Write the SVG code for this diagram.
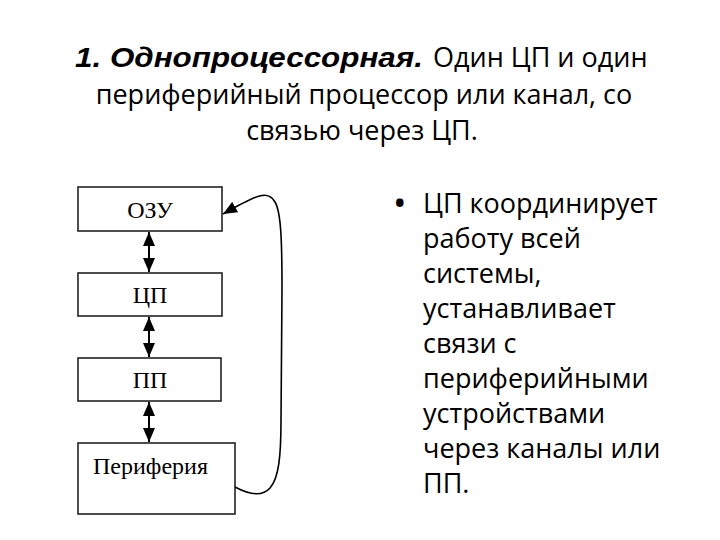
<svg xmlns="http://www.w3.org/2000/svg" width="720" height="540" viewBox="0 0 720 540">
<style>
.t{font-family:"Open Sans","Noto Sans","DejaVu Sans",sans-serif;font-size:27px;fill:#000}
.b{font-family:"Liberation Sans",Arial,sans-serif;font-size:28px;font-weight:bold;font-style:italic;fill:#000}
.box{fill:#fff;stroke:#222;stroke-width:1.6}
.lbl{font-family:"Liberation Serif","Times New Roman",serif;font-size:24px;fill:#000}
.arr{stroke:#000;stroke-width:2;fill:none}
</style>
<defs>
<marker id="ah" viewBox="0 0 14 12" refX="14" refY="6" markerWidth="14" markerHeight="12" markerUnits="userSpaceOnUse" orient="auto-start-reverse">
<path d="M0,0 L14,6 L0,12 z" fill="#000"/>
</marker>
</defs>
<rect width="720" height="540" fill="#fff"/>
<g id="title">
<text class="t" x="75" y="67"><tspan class="b" textLength="348" lengthAdjust="spacingAndGlyphs">1. Однопроцессорная.</tspan><tspan x="433">Один ЦП и один</tspan></text>
<text class="t" x="364" y="104" text-anchor="middle">периферийный процессор или канал, со</text>
<text class="t" x="362" y="140" text-anchor="middle">связью через ЦП.</text>
</g>
<g id="bullet">
<text class="t" x="393" y="216" style="font-size:36px">•</text>
<text class="t" x="423" y="213">ЦП координирует</text>
<text class="t" x="423" y="248">работу всей</text>
<text class="t" x="423" y="283">системы,</text>
<text class="t" x="423" y="318">устанавливает</text>
<text class="t" x="423" y="353">связи с</text>
<text class="t" x="423" y="388">периферийными</text>
<text class="t" x="423" y="423">устройствами</text>
<text class="t" x="423" y="458">через каналы или</text>
<text class="t" x="423" y="493">ПП.</text>
</g>
<g id="ozu"><rect class="box" x="78" y="187" width="144" height="44"/><text class="lbl" x="150" y="218" text-anchor="middle">ОЗУ</text></g>
<g id="cp"><rect class="box" x="78" y="273" width="144" height="43"/><text class="lbl" x="150" y="303" text-anchor="middle">ЦП</text></g>
<g id="pp"><rect class="box" x="78" y="358" width="143" height="43"/><text class="lbl" x="150" y="388" text-anchor="middle">ПП</text></g>
<g id="periphery"><rect class="box" x="78" y="443" width="157" height="71"/><text class="lbl" x="93" y="474">Периферия</text></g>
<g id="connectors">
<line class="arr" x1="149" y1="232" x2="149" y2="272" marker-start="url(#ah)" marker-end="url(#ah)"/>
<line class="arr" x1="149" y1="317" x2="149" y2="357" marker-start="url(#ah)" marker-end="url(#ah)"/>
<line class="arr" x1="149" y1="402" x2="149" y2="442" marker-start="url(#ah)" marker-end="url(#ah)"/>
<path class="arr" style="stroke-width:1.6" d="M235,487 C250,495 262,497 270,488 C279,478 281,455 281,420 L282,290 C282,240 281,212 275,202 C268,190 258,194 223,214" marker-end="url(#ah)"/>
</g>
</svg>
